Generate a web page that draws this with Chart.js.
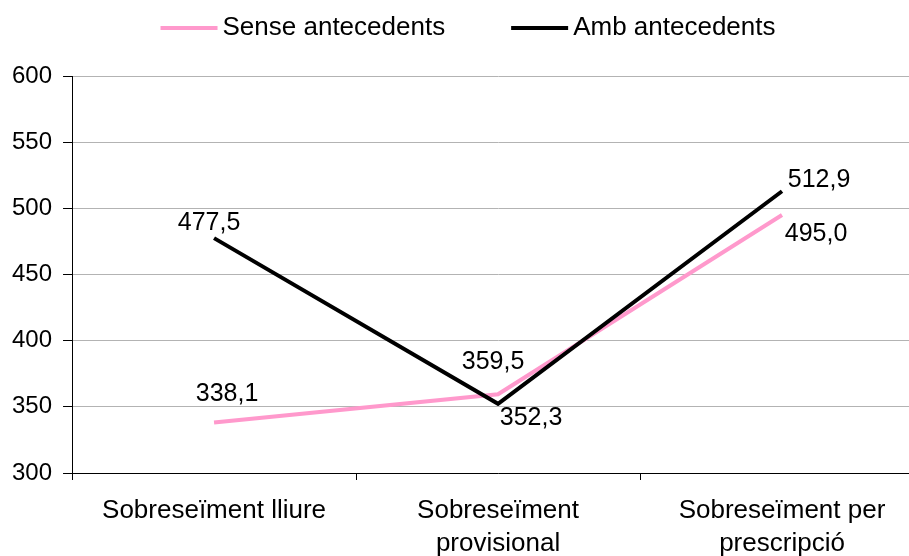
<!DOCTYPE html>
<html>
<head>
<meta charset="utf-8">
<script src="https://cdn.jsdelivr.net/npm/chart.js@4/dist/chart.umd.min.js"></script>
<style>
  html, body { margin: 0; padding: 0; background: #fff; overflow: hidden; }
  #wrap { width: 924px; height: 556px; }
</style>
</head>
<body>
<div id="wrap"><canvas id="chart"></canvas></div>
<script>
const categories = [
	'Sobreseïment lliure',
	['Sobreseïment', 'provisional'],
	['Sobreseïment per', 'prescripció']
];
const seriesNames = ['Sense antecedents', 'Amb antecedents'];
const senseValues = [338.1, 359.5, 495.0];
const ambValues = [477.5, 352.3, 512.9];
const yTicks = [300, 350, 400, 450, 500, 550, 600];

// label offsets (px) from each point, per series
const senseLabelOffsets = [[13, -28], [-5, -32], [34, 19]];
const ambLabelOffsets = [[-5, -15], [33, 14], [37, -11]];

const FONT = "'Liberation Sans', Arial, sans-serif";

const fmt = v => v.toFixed(1).replace('.', ',');

const pointLabels = {
	id: 'pointLabels',
	afterDatasetsDraw(chart) {
		const ctx = chart.ctx;
		const offsets = [senseLabelOffsets, ambLabelOffsets];
		ctx.save();
		ctx.font = '25px ' + FONT;
		ctx.fillStyle = '#000';
		ctx.textAlign = 'center';
		ctx.textBaseline = 'middle';
		chart.data.datasets.forEach((ds, i) => {
			const meta = chart.getDatasetMeta(i);
			meta.data.forEach((pt, j) => {
				const off = offsets[i][j];
				ctx.fillText(fmt(ds.data[j]), pt.x + off[0], pt.y + off[1]);
			});
		});
		ctx.restore();
	}
};

// legend drawn by hand so the line/text gaps match
const lineLegend = {
	id: 'lineLegend',
	afterDraw(chart) {
		const ctx = chart.ctx;
		const lineW = 57, gap = 5, itemGap = 66, y = 28;
		ctx.save();
		ctx.font = '26px ' + FONT;
		ctx.textBaseline = 'middle';
		const items = chart.data.datasets.map(ds => ({
			label: ds.label, color: ds.borderColor, w: ctx.measureText(ds.label).width
		}));
		let total = 0;
		items.forEach((it, i) => { total += lineW + gap + it.w + (i ? itemGap : 0); });
		let x = 468 - total / 2;
		items.forEach(it => {
			ctx.strokeStyle = it.color;
			ctx.lineWidth = 4;
			ctx.beginPath();
			ctx.moveTo(x, y);
			ctx.lineTo(x + lineW, y);
			ctx.stroke();
			ctx.fillStyle = '#000';
			ctx.fillText(it.label, x + lineW + gap, y);
			x += lineW + gap + it.w + itemGap;
		});
		ctx.restore();
	}
};

new Chart(document.getElementById('chart'), {
	type: 'line',
	data: {
		labels: categories,
		datasets: [
			{
				label: seriesNames[0],
				data: senseValues,
				borderColor: '#ff99cc',
				borderWidth: 4,
				pointRadius: 0,
				tension: 0,
				order: 1
			},
			{
				label: seriesNames[1],
				data: ambValues,
				borderColor: '#000000',
				borderWidth: 4,
				pointRadius: 0,
				tension: 0,
				order: 0
			}
		]
	},
	options: {
		responsive: true,
		maintainAspectRatio: false,
		animation: false,
		layout: { padding: { top: 76, left: 1, right: 0, bottom: 0 } },
		plugins: {
			legend: { display: false },
			tooltip: { enabled: false }
		},
		scales: {
			x: {
				offset: true,
				afterFit: axis => { axis.height = 83; },
				grid: {
					offset: true,
					drawOnChartArea: false,
					drawTicks: true,
					tickLength: 7,
					tickColor: '#000'
				},
				border: { color: '#000', width: 1 },
				ticks: {
					color: '#000',
					padding: 14,
					maxRotation: 0,
					autoSkip: false,
					font: { family: FONT, size: 26, lineHeight: 1.28 }
				}
			},
			y: {
				min: yTicks[0],
				max: yTicks[yTicks.length - 1],
				afterBuildTicks: axis => { axis.ticks = yTicks.map(v => ({ value: v })); },
				grid: {
					color: '#b3b3b3',
					lineWidth: 1,
					tickLength: 9,
					tickColor: '#000'
				},
				border: { color: '#000', width: 1 },
				ticks: {
					color: '#000',
					padding: 11,
					font: { family: FONT, size: 24 }
				}
			}
		}
	},
	plugins: [pointLabels, lineLegend]
});
</script>
</body>
</html>
